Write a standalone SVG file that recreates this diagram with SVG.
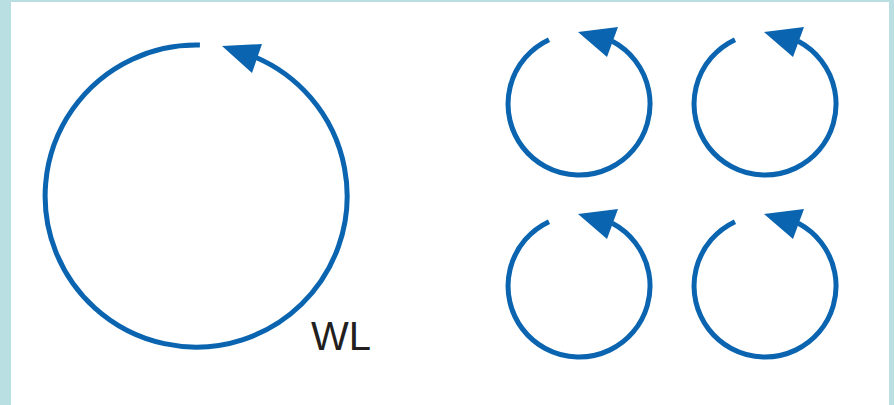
<svg xmlns="http://www.w3.org/2000/svg" width="894" height="405" viewBox="0 0 894 405">
  <style>
    .loop { fill: none; stroke: #0a64b0; stroke-width: 5; stroke-linecap: butt; }
    .head { fill: #0a64b0; stroke: none; }
    .lbl { font-family: "Liberation Sans", Arial, sans-serif; font-size: 40px; fill: #231f20; }
  </style>
  <defs>
    <g id="small-loop">
      <path class="loop" d="M -30 -64.3 A 71 71 0 1 0 33.3 -62.7"/>
      <polygon class="head" points="-1,-72 39,-77 28,-47"/>
    </g>
  </defs>
  <rect x="0" y="0" width="894" height="405" fill="#badfe3"/>
  <rect x="11" y="2" width="878" height="403" fill="#ffffff"/>

  <g id="big-loop" transform="translate(196,196)">
    <path class="loop" d="M 3.9 -150.9 A 151 151 0 1 0 59 -139"/>
    <polygon class="head" points="26,-150 66,-152 56,-123"/>
  </g>
  <g id="label-wl">
    <text class="lbl" x="311" y="350">WL</text>
  </g>
  <g id="loop-1" transform="translate(579,104)"><use href="#small-loop"/></g>
  <g id="loop-2" transform="translate(765,104)"><use href="#small-loop"/></g>
  <g id="loop-3" transform="translate(579,286)"><use href="#small-loop"/></g>
  <g id="loop-4" transform="translate(765,286)"><use href="#small-loop"/></g>
  <g id="connectors"></g>
</svg>
